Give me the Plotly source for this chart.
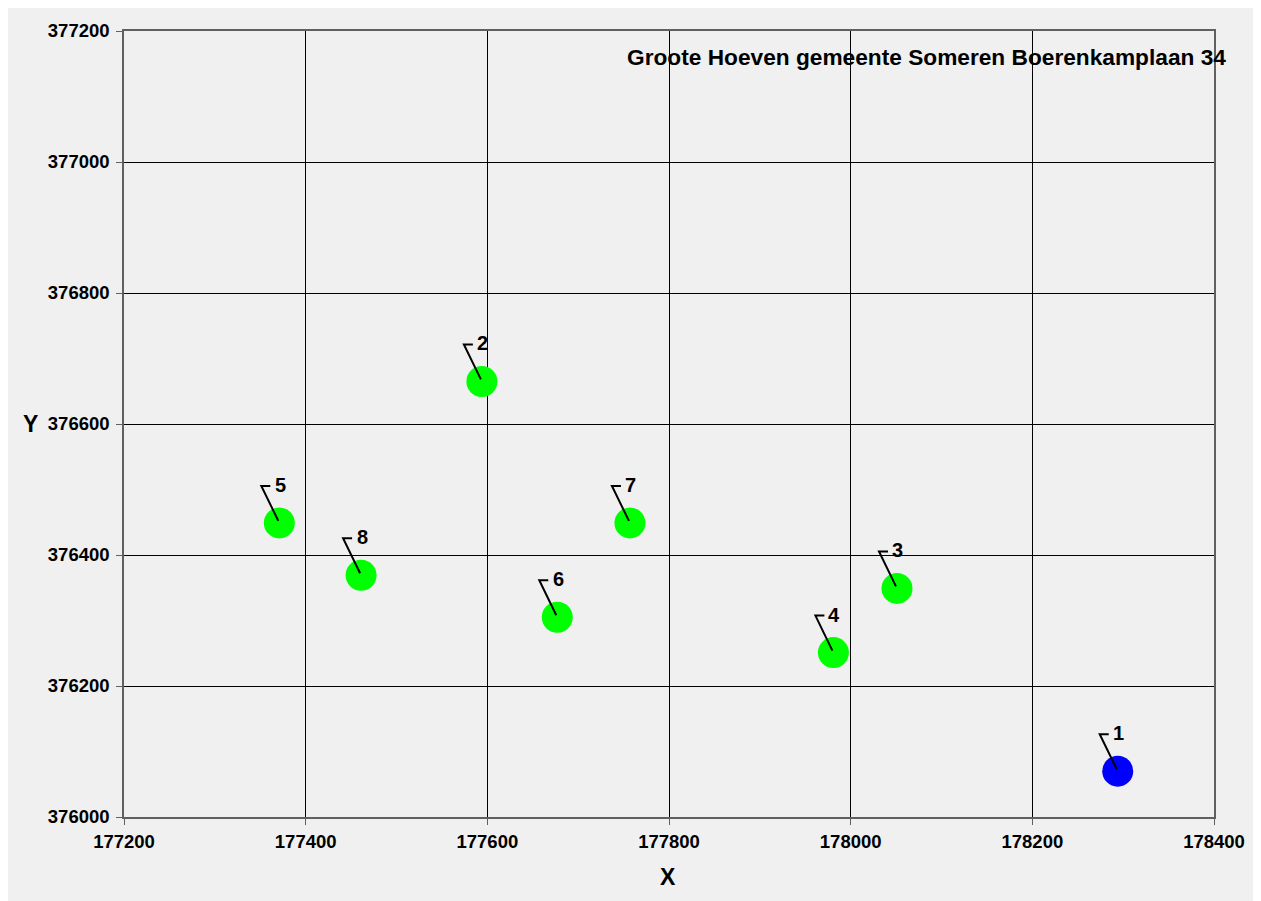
import plotly.graph_objects as go

# Data
labels = ["1", "2", "3", "4", "5", "6", "7", "8"]
x_vals = [178294, 177594, 178051, 177981, 177371, 177677, 177757, 177461]
y_vals = [376070, 376665, 376349, 376251, 376449, 376305, 376449, 376369]
colors = ["#0000FF", "#00FF00", "#00FF00", "#00FF00", "#00FF00", "#00FF00", "#00FF00", "#00FF00"]
title_text = "Groote Hoeven gemeente Someren Boerenkamplaan 34"
x_ticks = [177200, 177400, 177600, 177800, 178000, 178200, 178400]
y_ticks = [376000, 376200, 376400, 376600, 376800, 377000, 377200]

FONT = "Liberation Sans, Arial, sans-serif"
BG = "#F0F0F0"

fig = go.Figure()
fig.add_trace(go.Scatter(
    x=x_vals, y=y_vals, mode="markers",
    marker=dict(size=31, color=colors, line=dict(width=0)),
    hoverinfo="skip", showlegend=False,
))

shapes = []
annotations = []
# leader lines (pixel offsets anchored on each point) and labels
for lab, xv, yv in zip(labels, x_vals, y_vals):
    shapes.append(dict(
        type="path", xref="x", yref="y",
        xsizemode="pixel", ysizemode="pixel",
        xanchor=xv, yanchor=yv,
        path="M -1,2 L -18,37 L -9,37",
        line=dict(color="black", width=2),
        layer="above",
    ))
    annotations.append(dict(
        x=xv, y=yv, xref="x", yref="y", text=lab, showarrow=False,
        xanchor="center", yanchor="middle", xshift=1, yshift=38,
        font=dict(family=FONT, size=20, color="black", weight="bold"),
    ))

annotations.append(dict(
    x=1.0128, y=0.967, xref="paper", yref="paper", text=title_text,
    showarrow=False, xanchor="right", yanchor="middle",
    font=dict(family=FONT, size=22.7, color="black", weight="bold"),
))
annotations.append(dict(
    x=-0.0862, y=0.5, xref="paper", yref="paper", text="Y",
    showarrow=False, xanchor="center", yanchor="middle",
    font=dict(family=FONT, size=23, color="black", weight="bold"),
))
annotations.append(dict(
    x=0.499, y=-0.0761, xref="paper", yref="paper", text="X",
    showarrow=False, xanchor="center", yanchor="middle",
    font=dict(family=FONT, size=23, color="black", weight="bold"),
))

axis_common = dict(
    showgrid=True, gridcolor="black", gridwidth=1,
    showline=True, linecolor="#606060", linewidth=1.5, mirror=True,
    ticks="outside", ticklen=6, tickcolor="#606060", tickwidth=1,
    zeroline=False,
    tickfont=dict(family=FONT, size=18.5, color="black", weight="bold"),
)

fig.update_layout(
    width=1261, height=901,
    margin=dict(l=116, r=55, t=21, b=92),
    paper_bgcolor=BG, plot_bgcolor=BG,
    xaxis=dict(range=[x_ticks[0], x_ticks[-1]], tickvals=x_ticks,
               ticktext=[str(v) for v in x_ticks], ticklabelstandoff=1, **axis_common),
    yaxis=dict(range=[y_ticks[0], y_ticks[-1]], tickvals=y_ticks,
               ticktext=[str(v) for v in y_ticks], ticklabelstandoff=3, **axis_common),
    annotations=annotations, shapes=shapes,
    showlegend=False,
)

fig.write_html("out.html")
